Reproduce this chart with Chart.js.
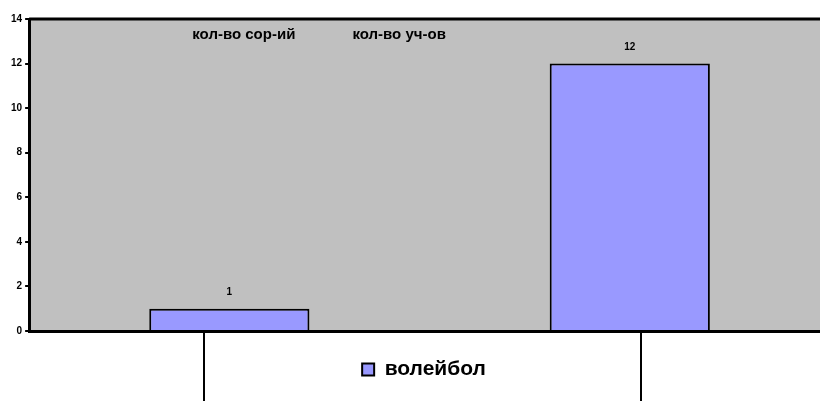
<!DOCTYPE html>
<html>
<head>
<meta charset="utf-8">
<script src="https://cdn.jsdelivr.net/npm/chart.js@4/dist/chart.umd.min.js"></script>
<style>
  html, body { margin: 0; padding: 0; background: #fff; overflow: hidden; }
  #wrap { width: 820px; height: 401px; overflow: hidden; }
  #wrap canvas { display: block; }
</style>
</head>
<body>
<div id="wrap"><canvas id="chart" width="830" height="401"></canvas></div>
<script>
// data
const categories = ["кол-во сор-ий", "кол-во уч-ов"];
const seriesName = "волейбол";
const values = [1, 12];
const yTicks = [0, 2, 4, 6, 8, 10, 12, 14];
// category names sit along the top, dividers hang under the axis (category units)
const labelSpots = [-0.0925, 0.3075];
const dividerSpots = [-0.0625, 1.0275];

const FONT = "'Liberation Sans', Arial, sans-serif";

const plotBg = {
  id: "plotBg",
  afterLayout(chart) {
    // nudge legend a little right/down, like the original
    const lg = chart.legend;
    lg.left += 5; lg.right += 5;
    lg.top += 2; lg.bottom += 2;
  },
  beforeDraw(chart) {
    const { ctx, chartArea: a } = chart;
    ctx.save();
    ctx.fillStyle = "#c0c0c0";
    ctx.fillRect(a.left, a.top, a.right - a.left, a.bottom - a.top);
    ctx.restore();
  },
  afterDraw(chart) {
    const { ctx, chartArea: a, scales } = chart;
    ctx.save();
    // top border of the plot
    ctx.strokeStyle = "#000";
    ctx.lineWidth = 3;
    ctx.beginPath();
    ctx.moveTo(a.left, a.top);
    ctx.lineTo(a.right, a.top);
    ctx.stroke();
    // dividers below the axis
    ctx.lineWidth = 2;
    dividerSpots.forEach(v => {
      const x = Math.round(scales.x.getPixelForValue(v));
      ctx.beginPath();
      ctx.moveTo(x, a.bottom);
      ctx.lineTo(x, chart.height);
      ctx.stroke();
    });
    // category names
    ctx.fillStyle = "#000";
    ctx.font = "bold 15px " + FONT;
    ctx.textBaseline = "middle";
    ctx.textAlign = "left";
    categories.forEach((c, i) => {
      ctx.fillText(c, scales.x.getPixelForValue(labelSpots[i]), a.top + 16);
    });
    ctx.restore();
  },
  afterDatasetsDraw(chart) {
    const { ctx } = chart;
    const meta = chart.getDatasetMeta(0);
    ctx.save();
    ctx.fillStyle = "#000";
    ctx.font = "bold 10px " + FONT;
    ctx.textAlign = "center";
    ctx.textBaseline = "middle";
    meta.data.forEach((bar, i) => {
      ctx.fillText(String(values[i]), bar.x, bar.y - 16);
    });
    ctx.restore();
  }
};

new Chart(document.getElementById("chart"), {
  type: "bar",
  data: {
    labels: categories,
    datasets: [{
      label: seriesName,
      data: values,
      backgroundColor: "#9999ff",
      borderColor: "#000",
      borderWidth: 2,
      categoryPercentage: 1,
      barPercentage: 0.4
    }]
  },
  options: {
    responsive: false,
    animation: false,
    layout: { padding: { top: 19, left: 8, right: 0, bottom: 13 } },
    plugins: {
      tooltip: { enabled: false },
      legend: {
        position: "bottom",
        labels: {
          color: "#000",
          font: { family: FONT, size: 21, weight: "bold" },
          boxWidth: 12,
          boxHeight: 12,
          padding: 18,
          generateLabels() {
            return [{
              text: seriesName,
              fillStyle: "#9999ff",
              strokeStyle: "#000",
              lineWidth: 2,
              datasetIndex: 0
            }];
          }
        }
      }
    },
    scales: {
      x: {
        type: "category",
        ticks: { display: false },
        grid: { display: false },
        border: { display: true, color: "#000", width: 3 }
      },
      y: {
        min: 0,
        max: 14,
        afterBuildTicks(axis) { axis.ticks = yTicks.map(v => ({ value: v })); },
        ticks: {
          color: "#000",
          font: { family: FONT, size: 10, weight: "bold" },
          padding: 3
        },
        grid: { drawOnChartArea: false, drawTicks: true, tickLength: 4, color: "#000", lineWidth: 2 },
        border: { display: true, color: "#000", width: 3 }
      }
    }
  },
  plugins: [plotBg]
});
</script>
</body>
</html>
